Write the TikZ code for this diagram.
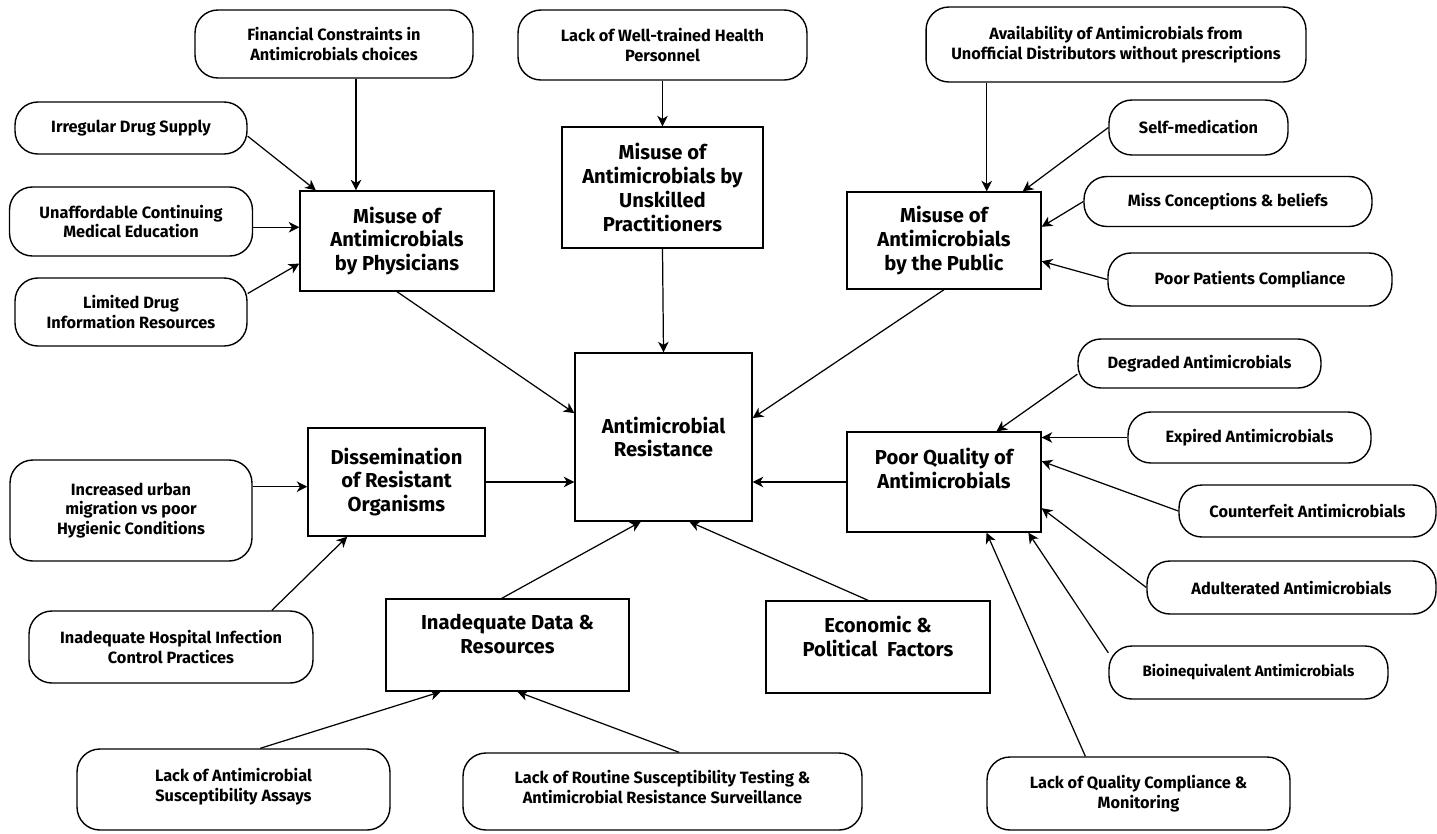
\documentclass[tikz,border=0pt]{standalone}
\usepackage{fontspec}
\setmainfont{Fira Sans}
\usetikzlibrary{arrows.meta}
\begin{document}
\begin{tikzpicture}[x=0.02cm,y=-0.02cm,
    cause/.style={draw,line width=0.8pt,rounded corners=13pt,align=center,inner sep=2pt,
        font=\fontsize{9.3}{11.3}\selectfont\bfseries},
    factor/.style={draw,line width=0.8pt,align=center,inner sep=2pt,
        font=\fontsize{11.5}{13.6}\selectfont\bfseries},
    link/.style={line width=0.7pt,-{Stealth[length=6pt,width=6pt,inset=1.8pt]}}]
    \useasboundingbox (0,0) rectangle (1437,833);
    % facteurs principaux
    \node[factor,minimum width=3.54cm,minimum height=3.36cm] (amr) at (663.5,437) {Antimicrobial\\Resistance};
    \node[factor,minimum width=3.88cm,minimum height=2cm] (phys) at (397,241) {Misuse of\\Antimicrobials\\by Physicians};
    \node[factor,minimum width=4.02cm,minimum height=2.42cm] (unsk) at (662.5,187.5) {Misuse of\\Antimicrobials by\\Unskilled\\Practitioners};
    \node[factor,minimum width=3.88cm,minimum height=1.94cm] (pub) at (944,240.5) {Misuse of\\Antimicrobials\\by the Public};
    \node[factor,minimum width=3.54cm,minimum height=2.16cm] (diss) at (396.5,482) {Dissemination\\of Resistant\\Organisms};
    \node[factor,minimum width=3.88cm,minimum height=2cm] (pq) at (944,482) {Poor Quality of\\Antimicrobials\\[2pt]};
    \node[factor,minimum width=4.86cm,minimum height=1.84cm] (data) at (507.5,645) {Inadequate Data \&\\Resources\\[-1pt]};
    \node[factor,minimum width=4.48cm,minimum height=1.84cm] (econ) at (878,647) {Economic \&\\Political~~Factors\\[-1pt]};
    % causes
    \node[cause,minimum width=5.56cm,minimum height=1.36cm] (fin) at (334,44) {Financial Constraints in\\Antimicrobials choices};
    \node[cause,minimum width=4.64cm,minimum height=1.04cm] (irr) at (131,128) {Irregular Drug Supply};
    \node[cause,minimum width=4.86cm,minimum height=1.38cm] (unaf) at (131,221.5) {Unaffordable Continuing\\Medical Education};
    \node[cause,minimum width=4.64cm,minimum height=1.36cm] (lim) at (131,312) {Limited Drug\\Information Resources};
    \node[cause,minimum width=5.78cm,minimum height=1.4cm] (well) at (662.5,45) {Lack of Well-trained Health\\Personnel};
    \node[cause,minimum width=7.6cm,minimum height=1.5cm] (avail) at (1116,44.5) {Availability of Antimicrobials from\\Unofficial Distributors without prescriptions};
    \node[cause,minimum width=3.58cm,minimum height=1.1cm] (self) at (1198.5,127.5) {Self-medication};
    \node[cause,minimum width=5.76cm,minimum height=1cm] (miss) at (1228,201.5) {Miss Conceptions \& beliefs};
    \node[cause,minimum width=5.68cm,minimum height=1.06cm] (pp) at (1250,279.5) {Poor Patients Compliance};
    \node[cause,minimum width=4.86cm,minimum height=0.98cm] (deg) at (1199.5,363.5) {Degraded Antimicrobials};
    \node[cause,minimum width=4.86cm,minimum height=1.02cm] (exp) at (1249.5,437.5) {Expired Antimicrobials};
    \node[cause,minimum width=5.14cm,minimum height=1.04cm] (cf) at (1307.5,511) {Counterfeit Antimicrobials};
    \node[cause,minimum width=5.78cm,minimum height=1.06cm] (adu) at (1291.5,587.5) {Adulterated Antimicrobials};
    \node[cause,minimum width=5.58cm,minimum height=1.06cm,font=\fontsize{8.6}{10.5}\selectfont\bfseries] (bio) at (1248.5,672.5) {Bioinequivalent Antimicrobials};
    \node[cause,minimum width=6.06cm,minimum height=1.46cm] (qc) at (1138.5,793.5) {Lack of Quality Compliance \&\\Monitoring};
    \node[cause,minimum width=4.84cm,minimum height=2.02cm] (urb) at (131,510.5) {Increased urban\\migration vs poor\\Hygienic Conditions};
    \node[cause,minimum width=5.68cm,minimum height=1.44cm] (hosp) at (171,647) {Inadequate Hospital Infection\\Control Practices};
    \node[cause,minimum width=6.26cm,minimum height=1.62cm] (as) at (233.5,789.5) {Lack of Antimicrobial\\Susceptibility Assays\\[-6pt]};
    \node[cause,minimum width=7.98cm,minimum height=1.54cm] (rout) at (662.5,791.5) {Lack of Routine Susceptibility Testing \&\\Antimicrobial Resistance Surveillance\\[-6pt]};
    % fleches
    \draw[link] (fin.south -| phys.129) -- (phys.129);
    \draw[link] (irr.-4) -- (phys.148);
    \draw[link] (unaf.east |- phys.172) -- (phys.172);
    \draw[link] (lim.9) -- (phys.193);
    \draw[link] (well.south) -- (unsk.north);
    \draw[link] (avail.south -| pub.49) -- (pub.49);
    \draw[link] (self.west) -- (pub.32);
    \draw[link] (miss.west) -- (pub.8);
    \draw[link] (pp.west) -- (pub.-12);
    \draw[link] (deg.185) -- (pq.44);
    \draw[link] (exp.west) -- (exp.west -| pq.east);
    \draw[link] (cf.west) -- (pq.12);
    \draw[link] (adu.west) -- (pq.-15);
    \draw[link] (bio.172) -- (pq.-31);
    \draw[link] (qc.145) -- (pq.-50);
    \draw[link] (urb.east |- diss.183) -- (diss.183);
    \draw[link] (hosp.20) -- (diss.228);
    \draw[link] (as.57) -- (data.215);
    \draw[link] (rout.67) -- (data.-78);
    % vers la resistance
    \draw[link] (phys.south) -- (amr.165);
    \draw[link] (unsk.south) -- (amr.north);
    \draw[link] (pub.south) -- (amr.12);
    \draw[link] (diss.east) -- (diss.east -| amr.west);
    \draw[link] (pq.west) -- (pq.west -| amr.east);
    \draw[link] (data.97) -- (amr.255);
    \draw[link] (econ.102) -- (amr.-73);
\end{tikzpicture}
\end{document}
